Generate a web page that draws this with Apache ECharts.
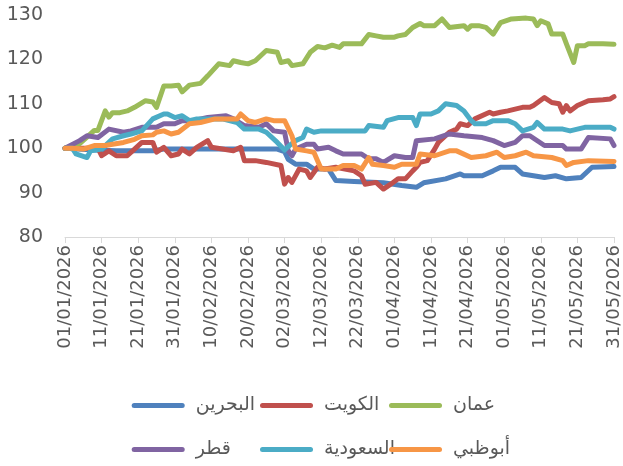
<!DOCTYPE html>
<html><head><meta charset="utf-8">
<script src="https://cdn.jsdelivr.net/npm/echarts@6/dist/echarts.min.js"></script>
<style>html,body{margin:0;padding:0;background:#fff}#c{width:623px;height:466px}</style>
</head><body><div id="c"></div>
<script>
const tickLabels = ['01/01/2026','11/01/2026','21/01/2026','31/01/2026','10/02/2026','20/02/2026','02/03/2026','12/03/2026','22/03/2026','01/04/2026','11/04/2026','21/04/2026','01/05/2026','11/05/2026','21/05/2026','31/05/2026'];
const seriesNames = ['البحرين','الكويت','عمان','قطر','السعودية','أبوظبي'];
// [day since 01/01/2026, index value]
const bahrain = [[0,100],[8,99.6],[14,99.4],[24,99.4],[27,99.8],[58,99.8],[60,99.2],[61,97.5],[63,96.4],[66,96.4],[68,95.3],[72,95.3],[74,92.7],[79,92.5],[87,92.2],[92,91.6],[96,91.2],[98,92.2],[104,93.1],[108,94.2],[109,93.8],[114,93.8],[117,94.9],[119,95.7],[123,95.7],[125,94.2],[128,93.8],[131,93.4],[134,93.8],[137,93.1],[141,93.4],[144,95.7],[150,95.9]];
const kuwait = [[0,100],[9,100],[10,98.3],[12,99.4],[14,98.3],[17,98.3],[19,99.8],[21,101.3],[24,101.3],[25,99.1],[27,100.2],[29,98.3],[31,98.7],[32,99.8],[34,98.7],[36,100.2],[39,101.7],[40,100.2],[43,99.8],[46,99.4],[48,100.2],[49,97.2],[52,97.2],[55,96.8],[59,96.1],[60,91.9],[61,93.4],[62,92.3],[64,95.3],[66,94.9],[67,93.4],[69,95.7],[71,95.3],[74,95.7],[79,94.9],[81,93.8],[82,91.9],[85,92.3],[87,90.8],[89,91.9],[91,93.1],[93,93.1],[95,94.9],[96,95.7],[97,96.8],[99,97.2],[101,99.8],[102,101.3],[105,103.6],[107,104.3],[108,105.5],[110,105.1],[112,106.6],[116,108.1],[117,107.7],[119,108.1],[121,108.4],[123,108.8],[125,109.2],[127,109.2],[128,109.6],[131,111.4],[133,110.3],[135,110],[136,108.1],[137,109.6],[138,108.4],[140,109.6],[143,110.7],[147,110.9],[149,111.1],[150,111.6]];
const oman = [[0,100],[4,101],[6,102.5],[8,104],[9,104],[11,108.4],[12,107],[13,108],[15,108],[17,108.4],[19,109.2],[22,110.7],[24,110.4],[25,109.2],[27,114],[29,114],[31,114.2],[32,112.7],[34,114.2],[37,114.6],[39,116.3],[42,119],[45,118.6],[46,119.7],[48,119.3],[50,119],[52,119.7],[55,122],[58,121.6],[59,119.3],[61,119.7],[62,118.6],[65,119],[67,121.6],[69,122.9],[71,122.6],[73,123.2],[75,122.7],[76,123.5],[81,123.5],[83,125.6],[85,125.3],[87,125],[90,125],[91,125.3],[93,125.6],[95,127.2],[97,128.1],[98,127.6],[101,127.6],[103,129.1],[105,127.2],[109,127.6],[110,126.8],[111,127.6],[113,127.6],[115,127.2],[117,125.7],[119,128.3],[122,129.1],[126,129.3],[128,129.1],[129,127.6],[130,128.7],[132,128],[133,125.7],[136,125.7],[137,123.5],[139,119.3],[140,123.1],[142,123.1],[143,123.5],[147,123.5],[150,123.4]];
const qatar = [[0,100],[4,101.7],[6,102.8],[9,102.4],[12,104.3],[16,103.6],[18,103.9],[21,104.7],[25,104.7],[27,105.5],[30,105.5],[32,106.2],[35,106.2],[39,106.9],[44,107.3],[46,106.6],[49,105.1],[53,104.7],[55,105.5],[57,103.9],[60,103.6],[61,99.4],[62,98.3],[63,99.8],[66,100.9],[68,100.9],[69,99.8],[72,100.2],[74,99.4],[76,98.7],[81,98.7],[83,97.6],[85,97.6],[87,96.8],[90,98.3],[93,97.9],[95,97.9],[96,101.7],[101,102.1],[105,103.2],[109,102.8],[114,102.4],[117,101.7],[120,100.6],[123,101.3],[125,102.8],[127,102.8],[131,100.6],[136,100.6],[137,99.8],[141,99.8],[143,102.4],[149,102.1],[150,100.6]];
const saudi = [[0,100],[2,100],[3,98.7],[6,97.9],[7,99.4],[10,99.8],[13,102.1],[16,102.8],[18,103.2],[21,103.9],[24,106.6],[27,107.7],[28,107.7],[30,106.9],[32,107.3],[34,106.2],[36,106.6],[43,106.6],[47,105.8],[49,104.3],[53,104.3],[55,103.6],[58,101.3],[60,99.6],[61,100.4],[63,101.7],[65,102.4],[66,104.3],[68,103.6],[70,103.9],[82,103.9],[83,105.1],[87,104.7],[88,106.2],[91,106.9],[95,106.9],[96,105.1],[97,107.7],[100,107.7],[102,108.4],[104,110],[107,109.6],[109,108.4],[111,106.2],[112,105.5],[115,105.5],[117,106.2],[121,106.2],[123,105.5],[125,103.9],[128,104.7],[129,105.8],[131,104.3],[136,104.3],[138,103.9],[142,104.7],[149,104.7],[150,104.3]];
const abudhabi = [[0,100],[2,100],[5,99.8],[8,100.6],[11,100.6],[13,100.9],[16,101.3],[19,102],[21,102.8],[24,103],[25,103.6],[27,103.9],[29,103.2],[31,103.6],[34,105.5],[37,105.8],[41,106.6],[47,106.6],[48,107.7],[50,106.2],[52,105.8],[55,106.6],[57,106.2],[60,106.2],[62,102.8],[63,99.8],[66,99.4],[68,99.1],[69,97.2],[70,95.3],[74,95.3],[76,96.1],[79,96.1],[81,95.3],[83,97.9],[84,96.4],[87,96.1],[90,95.7],[92,96.4],[96,96.4],[97,98.7],[101,98.3],[105,99.4],[107,99.4],[111,97.9],[115,98.3],[118,99.1],[120,97.9],[123,98.3],[126,99.1],[128,98.3],[133,97.9],[136,97.2],[137,96.1],[139,96.8],[143,97.2],[150,97]];
const seriesData = [bahrain, kuwait, oman, qatar, saudi, abudhabi];
const colors = ['#4F81BD','#C0504D','#9BBB59','#8064A2','#4BACC6','#F79646'];

const txt = '#595959';
const fontFam = '"DejaVu Sans", sans-serif';
const legendPos = [[131.7,396],[260,396],[389,396],[131.7,440],[260,440],[389,440]];
const barIcon = 'path://M5,0 H101 A5,5 0 0 1 101,10 H5 A5,5 0 0 1 5,0 Z';

const chart = echarts.init(document.getElementById('c'), null, {renderer:'canvas'});
chart.setOption({
  animation: false,
  color: colors,
  grid: {left: 65, right: 9, top: 15, bottom: 229, containLabel: false},
  xAxis: {
    type: 'value', min: 0, max: 150, interval: 10,
    splitLine: {show: false},
    axisLine: {show: true, lineStyle: {color: '#D9D9D9', width: 1}},
    axisTick: {show: true, length: 6, lineStyle: {color: '#D9D9D9'}},
    axisLabel: {rotate: 90, margin: 8, color: txt, fontSize: 18, fontFamily: fontFam,
      formatter: v => tickLabels[Math.round(v / 10)] || ''}
  },
  yAxis: {
    type: 'value', min: 80, max: 130, interval: 10,
    splitLine: {show: false},
    axisLine: {show: false}, axisTick: {show: false},
    axisLabel: {margin: 22, color: txt, fontSize: 19, fontFamily: fontFam}
  },
  legend: seriesNames.map((n, i) => ({
    data: [{name: n, icon: barIcon}], left: legendPos[i][0], top: legendPos[i][1],
    itemWidth: 53, itemHeight: 5, selectedMode: false, padding: 0,
    textStyle: {color: txt, fontSize: 19, fontFamily: fontFam, padding: [0, 0, 0, 6]}
  })),
  series: seriesNames.map((n, i) => ({
    name: n, type: 'line', data: seriesData[i], symbol: 'none',
    lineStyle: {width: 5, cap: 'round', join: 'round', color: colors[i]},
    itemStyle: {color: colors[i]}
  }))
});
</script></body></html>
